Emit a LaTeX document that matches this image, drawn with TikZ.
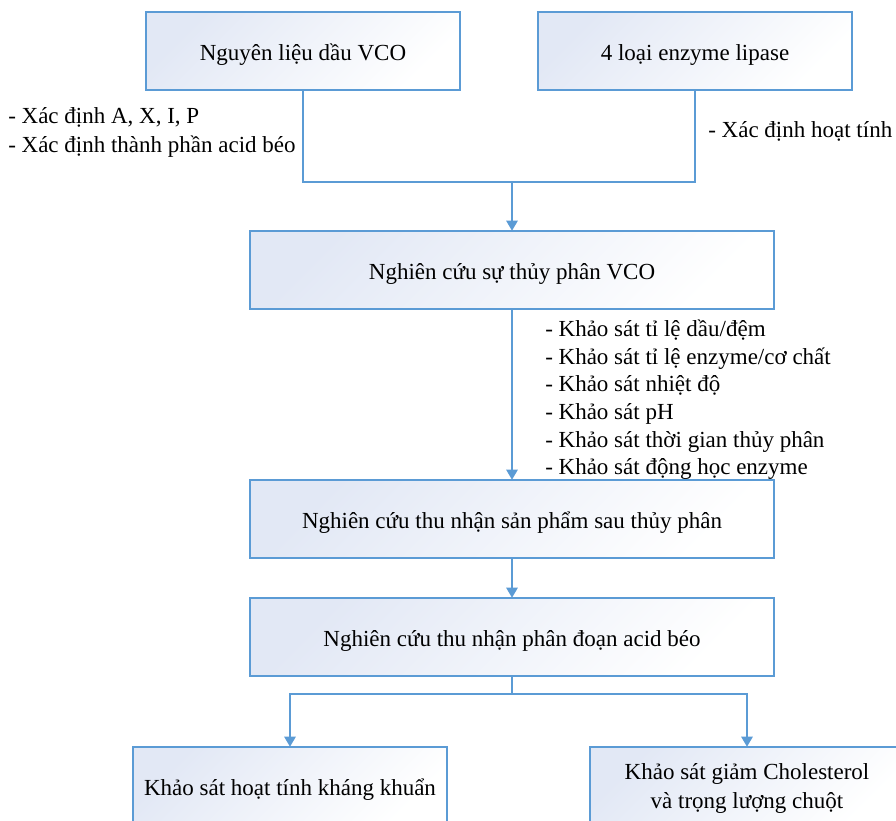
\documentclass[tikz,border=0pt]{standalone}
\usepackage{fontspec}
\setmainfont{Liberation Serif}
\usetikzlibrary{arrows.meta}
\definecolor{bord}{RGB}{91,155,213}
\definecolor{shadec}{RGB}{226,232,245}
\begin{document}
\begin{tikzpicture}[x=0.75pt,y=-0.75pt,
  box/.style={rectangle, inner sep=0pt,
    minimum width=235.5pt, minimum height=58.5pt,
    top color=shadec, bottom color=white, shading angle=45,
    font=\fontsize{17.25}{21.75}\selectfont, align=center},
  oneline/.style={text height=14.5pt, text depth=0pt},
  wide/.style={minimum width=393pt},
  conn/.style={draw=bord, line width=1.2pt},
  frame/.style={draw=bord, line width=1.4pt},
  arr/.style={conn, -{Triangle[width=8.5pt,length=7.5pt]}},
  lbl/.style={anchor=base west, inner sep=0pt, font=\fontsize{17.25}{21}\selectfont}
]
\useasboundingbox (0,0) rectangle (896,821);
\clip (0,0) rectangle (896,821);
\fill[white] (0,0) rectangle (896,821);

% boxes
\node[box,oneline] (b1) at (303,51) {Nguyên liệu dầu VCO};
\node[box,oneline] (b2) at (695,51) {4 loại enzyme lipase};
\node[box,wide,oneline] (b3) at (512,270) {Nghiên cứu sự thủy phân VCO};
\node[box,wide,oneline] (b4) at (512,519) {Nghiên cứu thu nhận sản phẩm sau thủy phân};
\node[box,wide,oneline] (b5) at (512,637) {Nghiên cứu thu nhận phân đoạn acid béo};
\node[box,oneline] (b6) at (290,786) {Khảo sát hoạt tính kháng khuẩn};
\node[box,text depth=0pt] (b7) at (747,786) {Khảo sát giảm Cholesterol\\và trọng lượng chuột};

% box borders
\foreach \n in {b1,b2,b3,b4,b5,b6,b7}
  \draw[frame] (\n.north west) rectangle (\n.south east);

% side texts
\node[lbl] (t1) at (8,123) {- Xác định A, X, I, P};
\node[lbl] (t2) at (8,152) {- Xác định thành phần acid béo};
\node[lbl] (t3) at (708,137) {- Xác định hoạt tính};

\node[lbl] (l1) at (545,336) {- Khảo sát tỉ lệ dầu/đệm};
\node[lbl] (l2) at (545,364) {- Khảo sát tỉ lệ enzyme/cơ chất};
\node[lbl] (l3) at (545,391) {- Khảo sát nhiệt độ};
\node[lbl] (l4) at (545,419) {- Khảo sát pH};
\node[lbl] (l5) at (545,447) {- Khảo sát thời gian thủy phân};
\node[lbl] (l6) at (545,474) {- Khảo sát động học enzyme};

% connectors
\coordinate (jt) at (512,182);
\coordinate (jb) at (512,694);
\draw[conn] (b1.south) |- (jt) -| (b2.south);
\draw[arr] (jt) -- (b3.north);
\draw[arr] (b3.south) -- (b4.north);
\draw[arr] (b4.south) -- (b5.north);
\draw[conn] (b5.south) -- (jb);
\draw[arr] (jb) -| (b6.north);
\draw[arr] (jb) -| (b7.north);
\end{tikzpicture}
\end{document}
